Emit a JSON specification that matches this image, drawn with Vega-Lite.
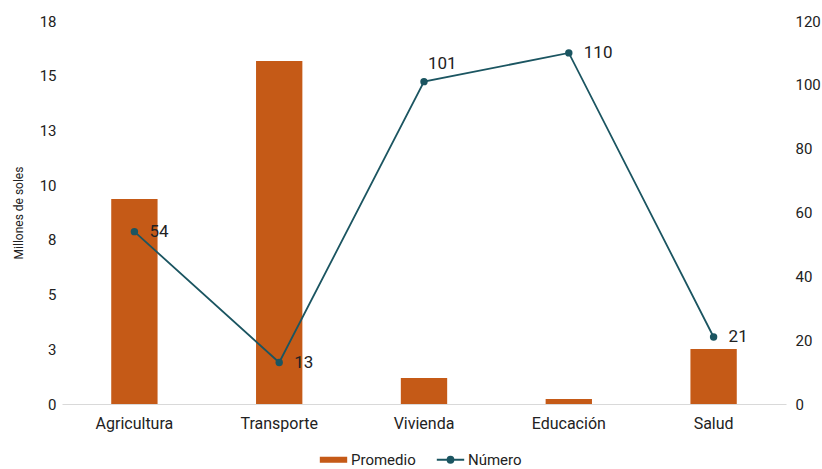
{
  "$schema": "https://vega.github.io/schema/vega-lite/v6.json",
  "width": 724,
  "height": 383,
  "autosize": "none",
  "padding": {"left": 62, "top": 21, "right": 36, "bottom": 65},
  "background": "white",
  "config": {
    "font": "Roboto",
    "view": {"stroke": null},
    "axis": {"labelFont": "Roboto", "labelFontSize": 15, "labelColor": "#222", "titleFont": "Roboto", "titleColor": "#222"},
    "legend": {"labelFont": "Roboto", "labelFontSize": 15, "labelColor": "#222", "layout": {"bottom": {"anchor": "middle"}}}
  },
  "data": {
    "values": [
      {"sector": "Agricultura", "promedio": 9.63, "numero": 54},
      {"sector": "Transporte", "promedio": 16.12, "numero": 13},
      {"sector": "Vivienda", "promedio": 1.22, "numero": 101},
      {"sector": "Educación", "promedio": 0.23, "numero": 110},
      {"sector": "Salud", "promedio": 2.58, "numero": 21}
    ]
  },
  "encoding": {
    "x": {
      "field": "sector", "type": "nominal", "sort": null,
      "scale": {"paddingInner": 0.68, "paddingOuter": 0.34},
      "axis": {"title": null, "labelAngle": 0, "ticks": false, "domainColor": "#d9d9d9", "domainWidth": 1, "labelPadding": 11, "labelFontSize": 16}
    }
  },
  "layer": [
    {
      "mark": {"type": "bar"},
      "encoding": {
        "y": {
          "field": "promedio", "type": "quantitative",
          "scale": {"domain": [0, 18], "nice": false},
          "axis": {
            "title": "Millones de soles", "titleFontSize": 12, "titleFontWeight": "normal", "titlePadding": 14,
            "values": [0, 2.5714, 5.1429, 7.7143, 10.2857, 12.8571, 15.4286, 18],
            "format": ".0f", "grid": false, "domain": false, "ticks": false, "labelPadding": 6
          }
        },
        "color": {
          "datum": "Promedio", "type": "nominal",
          "scale": {"domain": ["Promedio", "Número"], "range": ["#C55A17", "#1B5561"]},
          "legend": {
            "title": null, "orient": "bottom", "direction": "horizontal", "offset": 21,
            "symbolSize": 3000, "columnPadding": 16, "labelOffset": 10,
            "encode": {
              "symbols": {
                "update": {
                  "shape": {"signal": "datum.value === 'Promedio' ? 'M-0.5,-0.11H0.5V0.11H-0.5Z' : 'M-0.5,0H0.5M0.105,0A0.105,0.105 0 1 1 -0.105,0A0.105,0.105 0 1 1 0.105,0Z'"},
                  "strokeWidth": {"signal": "datum.value === 'Promedio' ? 0 : 2"},
                  "fillOpacity": {"value": 1}
                }
              }
            }
          }
        }
      }
    },
    {
      "layer": [
        {
          "mark": {"type": "line", "strokeWidth": 1.8},
          "encoding": {
            "color": {"datum": "Número", "type": "nominal"}
          }
        },
        {
          "mark": {"type": "point", "filled": true, "opacity": 1, "size": 55, "color": "#1B5561"}
        },
        {
          "transform": [{"filter": "datum.sector !== 'Vivienda'"}],
          "mark": {"type": "text", "align": "left", "baseline": "middle", "dx": 15, "fontSize": 17, "color": "#222"},
          "encoding": {
            "text": {"field": "numero", "type": "quantitative"}
          }
        },
        {
          "transform": [{"filter": "datum.sector === 'Vivienda'"}],
          "mark": {"type": "text", "align": "left", "baseline": "middle", "dx": 4, "dy": -18, "fontSize": 17, "color": "#222"},
          "encoding": {
            "text": {"field": "numero", "type": "quantitative"}
          }
        }
      ],
      "encoding": {
        "y": {
          "field": "numero", "type": "quantitative",
          "scale": {"domain": [0, 120], "nice": false},
          "axis": {"orient": "right", "title": null, "values": [0, 20, 40, 60, 80, 100, 120], "grid": false, "domain": false, "ticks": false, "labelPadding": 9}
        }
      }
    }
  ],
  "resolve": {"scale": {"y": "independent"}}
}
